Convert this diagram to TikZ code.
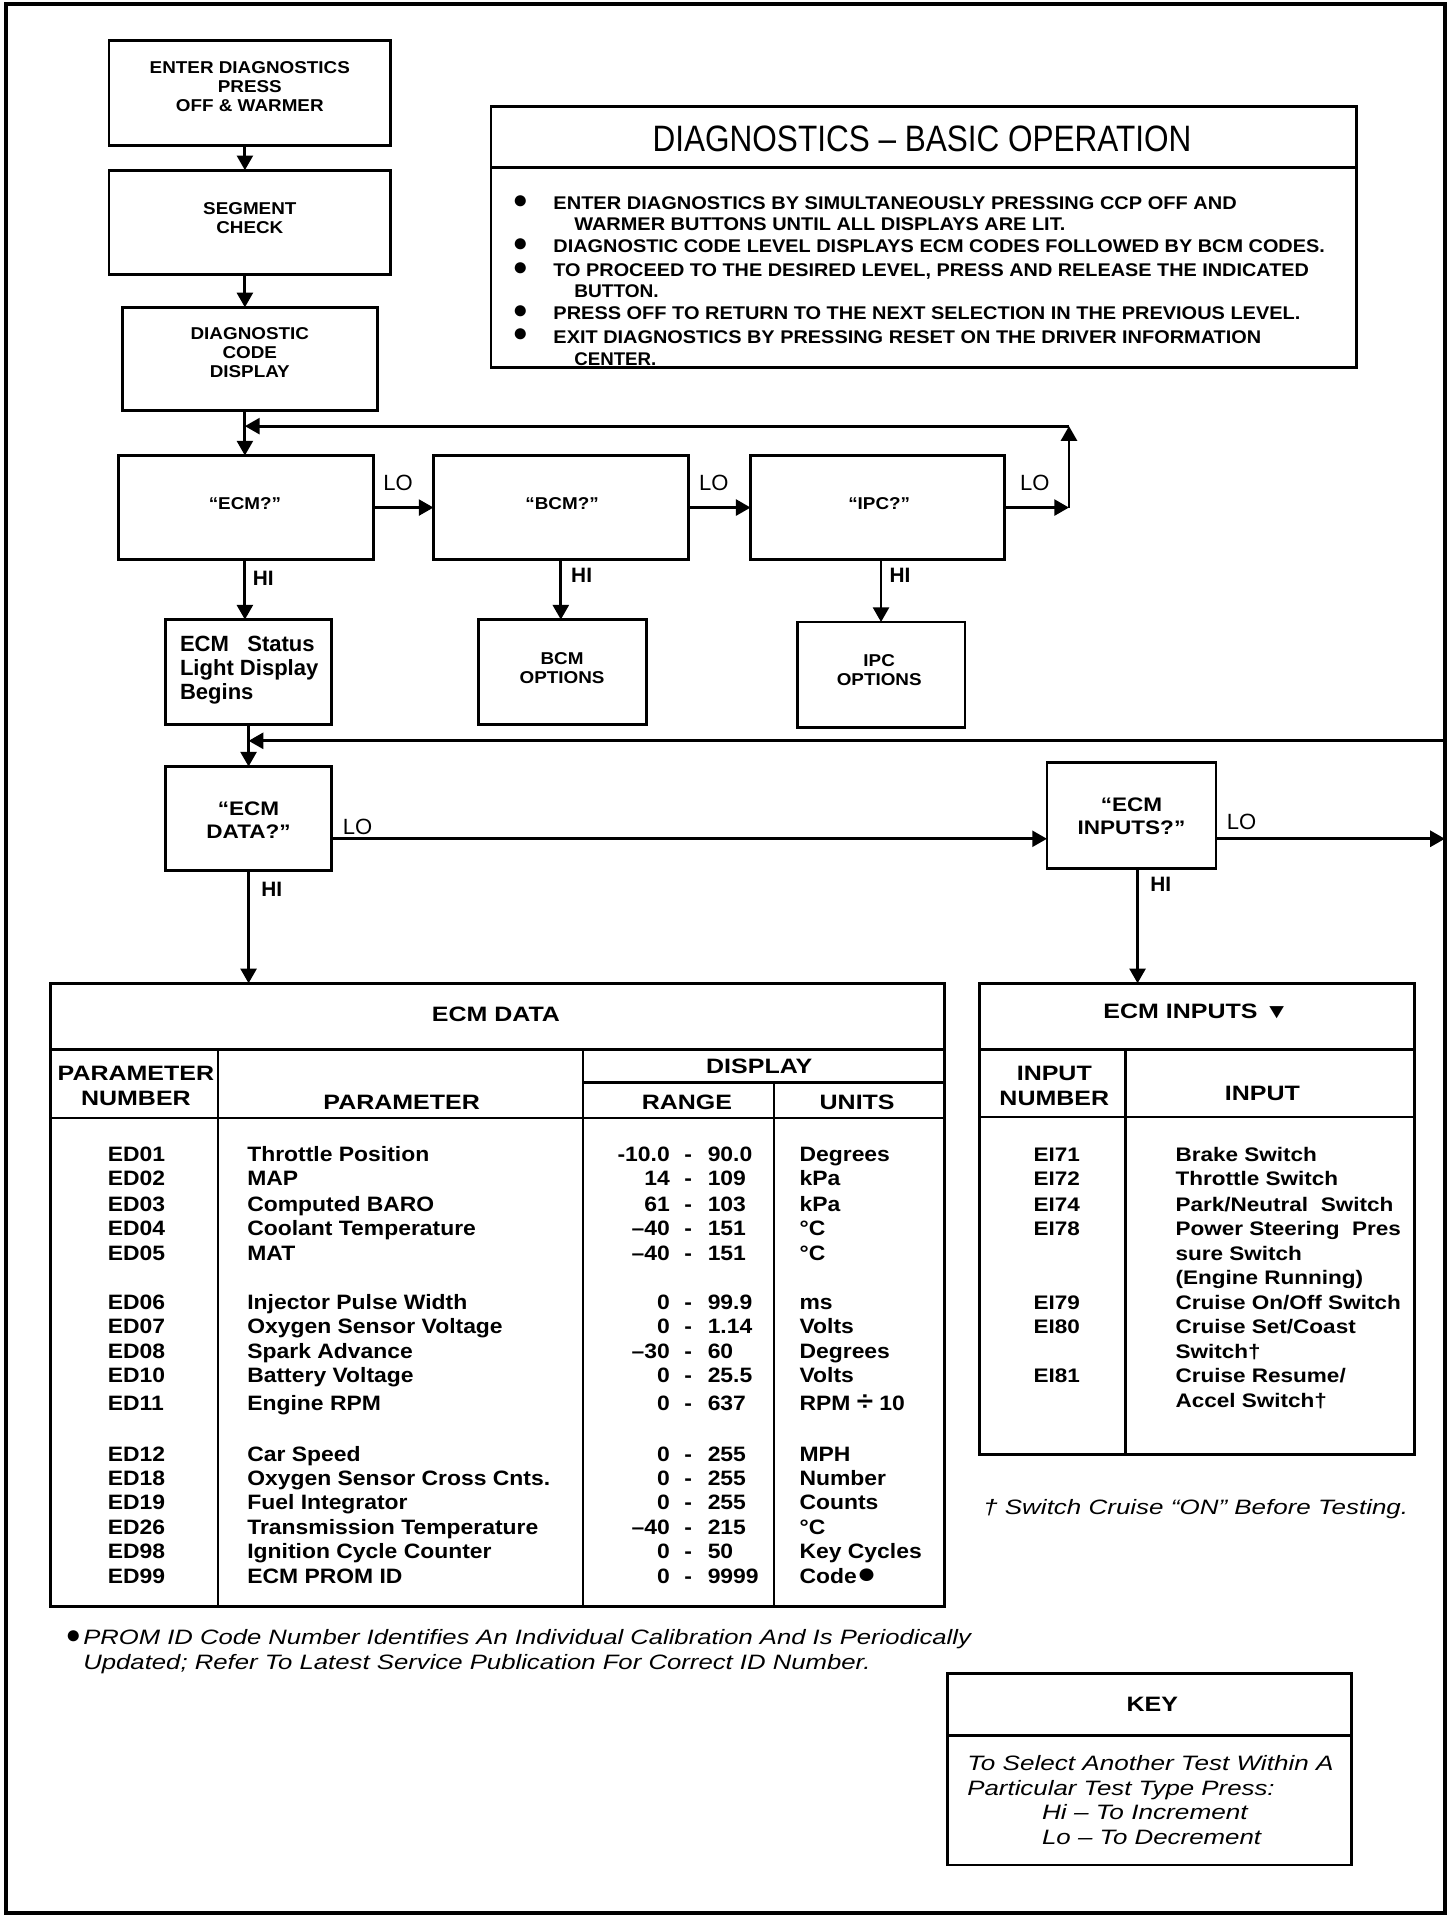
\documentclass[tikz,border=0pt]{standalone}
\usepackage{fontspec}
\setmainfont{Liberation Sans}
\newfontfamily\sTen[FakeStretch=1.1]{Liberation Sans}
\newfontfamily\sFif[FakeStretch=1.15]{Liberation Sans}
\newfontfamily\sTw[FakeStretch=1.2]{Liberation Sans}
\usepackage{graphicx}
\usetikzlibrary{arrows.meta}
\newlength\fitlen
\newcommand\fitw[2]{\settowidth{\fitlen}{#2}\scalebox{\fpeval{#1/\fitlen}}[1]{#2}}
\newcommand\bigdot{{\fontsize{24}{24}\selectfont ●}}
\newcommand\edrow[6]{%
  \node[tb, anchor=mid west] (num#2) at (88,#1) {#2};
  \node[tb, anchor=mid west] (par#2) at (202,#1) {#3};
  \node[tb, anchor=mid east] (rlo#2) at (547,#1) {#4};
  \node[tb, anchor=mid] (rda#2) at (562,#1) {-};
  \node[tb, anchor=mid west] (rhi#2) at (578,#1) {#5};
  \node[tb, anchor=mid west] (uni#2) at (653,#1) {#6};}
\newcommand\eirow[3]{%
  \node[ib, anchor=mid] (ein#2) at (863,#1) {#2};
  \node[ib, anchor=mid west] (eit#2) at (960,#1) {#3};}
\begin{document}
\begin{tikzpicture}[x=1pt,y=-1pt,
  every node/.style={inner sep=0pt,outer sep=0pt},
  box/.style={draw,line width=2.3pt},
  arr/.style={line width=2.3pt,-{Triangle[length=12pt,width=13pt]}},
  tl/.style={line width=2pt},
  bl/.style={font=\fontsize{14}{15.5}\sTen\bfseries, align=center},
  qb/.style={font=\fontsize{16}{19}\sFif\bfseries, align=center},
  lo/.style={font=\fontsize{18}{20}\selectfont},
  hi/.style={font=\fontsize{17}{20}\selectfont\bfseries},
  th/.style={font=\fontsize{17}{20}\sTw\bfseries, align=center},
  tb/.style={font=\fontsize{17}{20}\sTen\bfseries, yshift=-3.5pt},
  ib/.style={font=\fontsize{16}{20}\sFif\bfseries, yshift=-3.5pt},
  bo/.style={font=\fontsize{15}{17}\selectfont\bfseries, yshift=-3.5pt},
  it/.style={font=\fontsize{17}{20}\selectfont\itshape, yshift=-3.5pt},
  dotf/.style={font=\fontsize{21}{22}\selectfont},
]
\useasboundingbox (0,0) rectangle (1189,1568);
\fill[white] (0,0) rectangle (1189,1568);
\draw[line width=3.5pt] (5,3) rectangle (1180,1562);

% flow boxes
\node[box, minimum width=230pt, minimum height=86pt] (n1) at (204,76) {};
\node[box, minimum width=230pt, minimum height=85pt] (n2) at (204,181.5) {};
\node[box, minimum width=208pt, minimum height=84pt] (n3) at (204,293) {};
\node[box, minimum width=208pt, minimum height=85pt] (ecm) at (201,414.5) {};
\node[box, minimum width=208pt, minimum height=85pt] (bcm) at (458,414.5) {};
\node[box, minimum width=207pt, minimum height=85pt] (ipc) at (716.5,414.5) {};
\node[box, minimum width=136pt, minimum height=86pt] (ecmst) at (203,549) {};
\node[box, minimum width=137pt, minimum height=86pt] (bcmopt) at (459.5,549) {};
\node[box, minimum width=137pt, minimum height=86pt] (ipcopt) at (719.5,551) {};
\node[box, minimum width=136pt, minimum height=85pt] (ecmdata) at (203,668.5) {};
\node[box, minimum width=138pt, minimum height=86pt] (ecminputs) at (924,666) {};

\node[bl] (n1t) at (204,71) {ENTER DIAGNOSTICS\\PRESS\\OFF \& WARMER};
\node[bl] (n2t) at (204,178) {SEGMENT\\CHECK};
\node[bl] (n3t) at (204,288) {DIAGNOSTIC\\CODE\\DISPLAY};
\node[bl] (ecmt) at (200,411) {“ECM?”};
\node[bl] (bcmt) at (459,411) {“BCM?”};
\node[bl] (ipct) at (718,411) {“IPC?”};
\node[font=\fontsize{18}{19.5}\selectfont\bfseries, align=left, anchor=west] (ecmstt) at (147,547.5) {ECM\ \ \ Status\\Light Display\\Begins};
\node[bl] (bcmoptt) at (459,546) {BCM\\OPTIONS};
\node[bl] (ipcoptt) at (718,547) {IPC\\OPTIONS};
\node[qb] (ecmdatat) at (203,669.5) {“ECM\\DATA?”};
\node[qb] (ecminputst) at (924,666.5) {“ECM\\INPUTS?”};

% labels
\node[lo] (lo1) at (325,394) {LO};
\node[lo] (lo2) at (583,394) {LO};
\node[lo] (lo3) at (845,394) {LO};
\node[hi] (hi1) at (215,472) {HI};
\node[hi] (hi2) at (475,470) {HI};
\node[hi] (hi3) at (735,470) {HI};
\node[lo] (lo4t) at (292,675) {LO};
\node[hi] (hi4) at (222,726) {HI};
\node[lo] (lo5) at (1014,671) {LO};
\node[hi] (hi5) at (948,722) {HI};

% connectors
\coordinate (ax) at (200,0);
\coordinate (bx) at (203,0);
\coordinate (fr) at (1180,0);
\coordinate (c1) at (873,414.5);
\coordinate (c2) at (873,348);
\coordinate (r2) at (1180,605);
\coordinate (lo4) at (0,685);
\coordinate (ix) at (929,0);

% basic operation box
\node[box, minimum width=707pt, minimum height=213pt] (basic) at (754.5,193.5) {};
\draw[line width=2.3pt] (401,137) -- (1108,137);
\node[font=\fontsize{30}{32}\selectfont] (bt) at (753,113) {\fitw{440}{DIAGNOSTICS – BASIC OPERATION}};
\foreach \yy/\nm in {165/b1,200/b2,220/b3,255/b4,274/b5}
  \node[dotf] (\nm) at (425,\yy) {●};
\node[bo, anchor=mid west] (l1) at (452,165) {\fitw{558}{ENTER DIAGNOSTICS BY SIMULTANEOUSLY PRESSING CCP OFF AND}};
\node[bo, anchor=mid west] (l2) at (469,182) {\fitw{401}{WARMER BUTTONS UNTIL ALL DISPLAYS ARE LIT.}};
\node[bo, anchor=mid west] (l3) at (452,200) {\fitw{630}{DIAGNOSTIC CODE LEVEL DISPLAYS ECM CODES FOLLOWED BY BCM CODES.}};
\node[bo, anchor=mid west] (l4) at (452,220) {\fitw{617}{TO PROCEED TO THE DESIRED LEVEL, PRESS AND RELEASE THE INDICATED}};
\node[bo, anchor=mid west] (l5) at (469,237) {\fitw{69}{BUTTON.}};
\node[bo, anchor=mid west] (l6) at (452,255) {\fitw{610}{PRESS OFF TO RETURN TO THE NEXT SELECTION IN THE PREVIOUS LEVEL.}};
\node[bo, anchor=mid west] (l7) at (452,274) {\fitw{578}{EXIT DIAGNOSTICS BY PRESSING RESET ON THE DRIVER INFORMATION}};
\node[bo, anchor=mid west] (l8) at (469,292) {\fitw{67}{CENTER.}};

% ECM DATA table
\node[box, minimum width=730pt, minimum height=509pt] (tdata) at (406,1057.5) {};
\draw[tl] (41,857) -- (771,857);
\draw[tl] (41,913) -- (771,913);
\draw[tl] (476,884) -- (771,884);
\draw[tl] (178,857) -- (178,1312);
\draw[tl] (476,857) -- (476,1312);
\draw[tl] (632,884) -- (632,1312);
\node[th] (tdt) at (405,828) {ECM DATA};
\node[th] (tdh1) at (111,887) {PARAMETER\\NUMBER};
\node[th] (tdh2) at (328,900) {PARAMETER};
\node[th] (tdh3) at (620,871) {DISPLAY};
\node[th] (tdh4) at (561,900) {RANGE};
\node[th] (tdh5) at (700,900) {UNITS};
\edrow{942}{ED01}{Throttle Position}{-10.0}{90.0}{Degrees}
\edrow{962}{ED02}{MAP}{14}{109}{kPa}
\edrow{983}{ED03}{Computed BARO}{61}{103}{kPa}
\edrow{1003}{ED04}{Coolant Temperature}{–40}{151}{°C}
\edrow{1023}{ED05}{MAT}{–40}{151}{°C}
\edrow{1063}{ED06}{Injector Pulse Width}{0}{99.9}{ms}
\edrow{1083}{ED07}{Oxygen Sensor Voltage}{0}{1.14}{Volts}
\edrow{1103}{ED08}{Spark Advance}{–30}{60}{Degrees}
\edrow{1123}{ED10}{Battery Voltage}{0}{25.5}{Volts}
\edrow{1146}{ED11}{Engine RPM}{0}{637}{RPM {\fontsize{22}{22}\selectfont ÷} 10}
\edrow{1187}{ED12}{Car Speed}{0}{255}{MPH}
\edrow{1207}{ED18}{Oxygen Sensor Cross Cnts.}{0}{255}{Number}
\edrow{1227}{ED19}{Fuel Integrator}{0}{255}{Counts}
\edrow{1247}{ED26}{Transmission Temperature}{–40}{215}{°C}
\edrow{1267}{ED98}{Ignition Cycle Counter}{0}{50}{Key Cycles}
\edrow{1287}{ED99}{ECM PROM ID}{0}{9999}{Code\bigdot}

% ECM INPUTS table
\node[box, minimum width=355pt, minimum height=385pt] (tinputs) at (977.5,995.5) {};
\draw[tl] (800,857) -- (1155,857);
\draw[tl] (800,912) -- (1155,912);
\draw[tl] (919,857) -- (919,1188);
\node[th] (tit) at (977,826) {ECM INPUTS ▼};
\node[th] (tih1) at (861,887) {INPUT\\NUMBER};
\node[th] (tih2) at (1031,893) {INPUT};
\eirow{942}{EI71}{Brake Switch}
\eirow{962}{EI72}{Throttle Switch}
\eirow{983}{EI74}{Park/Neutral\ \ Switch}
\eirow{1003}{EI78}{Power Steering\ \ Pres}
\node[ib, anchor=mid west] (eic1) at (960,1023) {sure Switch};
\node[ib, anchor=mid west] (eic2) at (960,1043) {(Engine Running)};
\eirow{1063}{EI79}{Cruise On/Off Switch}
\eirow{1083}{EI80}{Cruise Set/Coast}
\node[ib, anchor=mid west] (eic3) at (960,1103) {Switch†};
\eirow{1123}{EI81}{Cruise Resume/}
\node[ib, anchor=mid west] (eic4) at (960,1143) {Accel Switch†};

% footnotes
\node[it, anchor=mid west] (fn3) at (803,1231) {\fitw{347}{† Switch Cruise “ON” Before Testing.}};
\node[dotf] (fnb) at (60,1337) {●};
\node[it, anchor=mid west] (fn1) at (68,1337) {\fitw{725}{PROM ID Code Number Identifies An Individual Calibration And Is Periodically}};
\node[it, anchor=mid west] (fn2) at (68,1357) {\fitw{643}{Updated; Refer To Latest Service Publication For Correct ID Number.}};

% KEY box
\node[box, minimum width=330pt, minimum height=156pt] (keyb) at (939,1445) {};
\draw[line width=2.3pt] (774,1417) -- (1104,1417);
\node[th] (keyt) at (941,1392) {KEY};
\node[it, anchor=mid west] (k1) at (790,1440) {\fitw{299}{To Select Another Test Within A}};
\node[it, anchor=mid west] (k2) at (790,1460) {\fitw{251}{Particular Test Type Press:}};
\node[it, anchor=mid west] (k3) at (851,1480) {\fitw{168}{Hi – To Increment}};
\node[it, anchor=mid west] (k4) at (851,1500) {\fitw{179}{Lo – To Decrement}};

% arrows
\draw[arr] (n1.south -| ax) -- (n2.north -| ax);
\draw[arr] (n2.south -| ax) -- (n3.north -| ax);
\draw[arr] (n3.south -| ax) -- (ecm.north -| ax);
\draw[arr] (ecm.east) -- (bcm.west);
\draw[arr] (bcm.east) -- (ipc.west);
\draw[arr] (ipc.east) -- (c1);
\draw[arr] (c1) -- (c2);
\draw[arr] (c2) -- (c2 -| ax);
\draw[arr] (ecm.south -| ax) -- (ecmst.north -| ax);
\draw[arr] (bcm.south) -- (bcm.south |- bcmopt.north);
\draw[arr] (ipcopt.north |- ipc.south) -- (ipcopt.north);
\draw[arr] (ecmst.south -| bx) -- (ecmdata.north -| bx);
\draw[arr] (r2) -- (r2 -| bx);
\draw[arr] (ecmdata.east |- lo4) -- (ecminputs.west |- lo4);
\draw[arr] (ecminputs.east |- lo4) -- (fr |- lo4);
\draw[arr] (ecmdata.south -| bx) -- (tdata.north -| bx);
\draw[arr] (ecminputs.south -| ix) -- (tinputs.north -| ix);
\end{tikzpicture}
\end{document}
